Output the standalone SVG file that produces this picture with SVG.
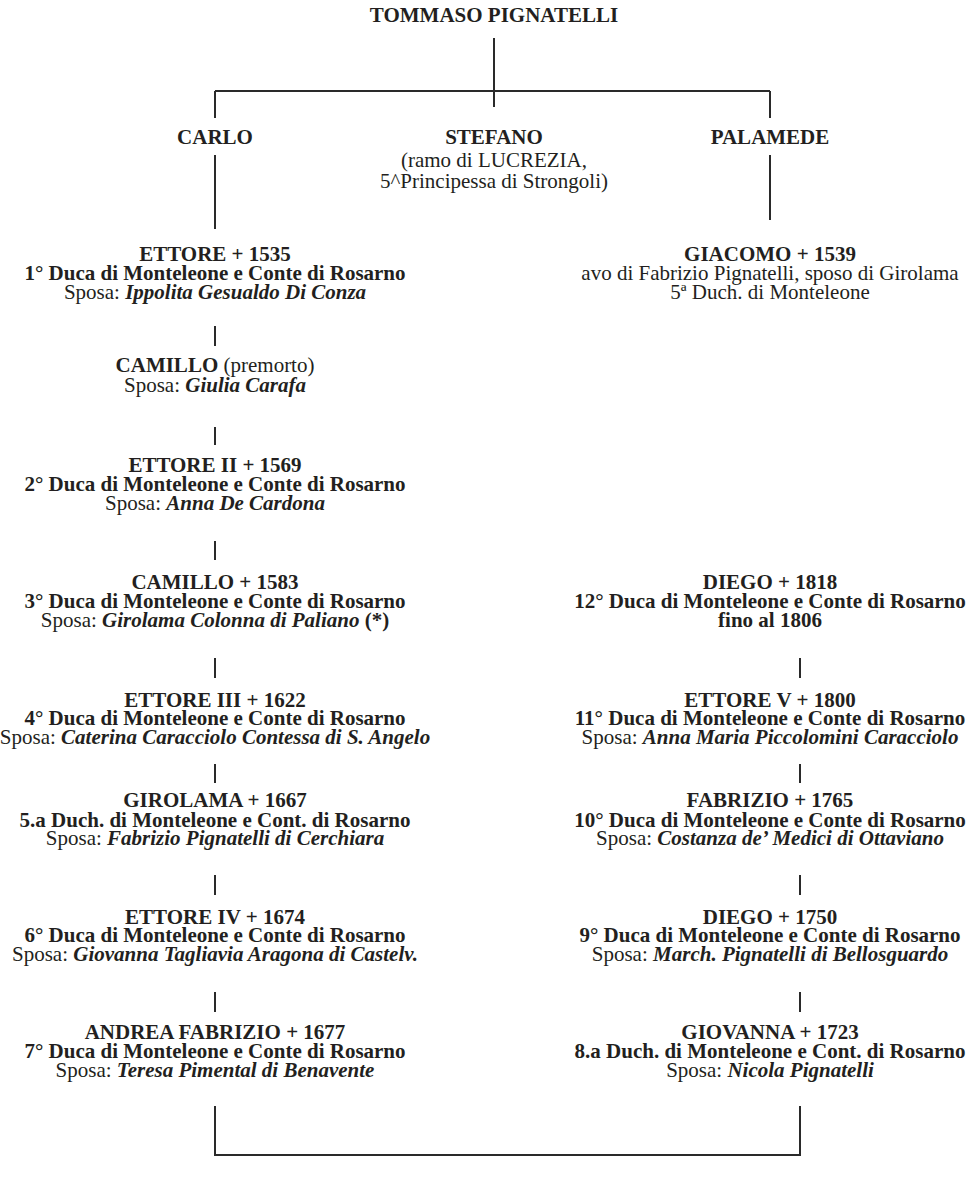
<svg xmlns="http://www.w3.org/2000/svg" width="972" height="1179" viewBox="0 0 972 1179">
<style>
text{font-family:"Liberation Serif","Times New Roman",serif;font-size:21px;fill:#231f20;text-anchor:middle}
.b{font-weight:bold}
.r{font-weight:normal}
.bi{font-weight:bold;font-style:italic}
.bn{font-weight:bold;font-style:normal}
.ln{stroke:#2a2a2a;stroke-width:2;fill:none}
</style>
<rect width="972" height="1179" fill="#fff"/>
<g id="connectors" class="ln">
<path d="M494 38V107M215 91H770M215 91V118M770 91V118M215 155V229M770 155V220"/>
<path d="M215 326V346M215 427V445M215 541V560M215 658V678M215 764V783M215 875V895M215 992V1012"/>
<path d="M800 658V678M800 764V783M800 875V895M800 992V1012"/>
<path d="M215 1106V1155H800V1106"/>
</g>
<g id="tommaso"><text class="b" x="494" y="22">TOMMASO PIGNATELLI</text></g>
<g id="carlo"><text class="b" x="215" y="144">CARLO</text></g>
<g id="stefano"><text class="b" x="494" y="144">STEFANO</text><text x="494" y="167">(ramo di LUCREZIA,</text><text x="494" y="188">5^Principessa di Strongoli)</text></g>
<g id="palamede"><text class="b" x="770" y="144">PALAMEDE</text></g>
<g id="ettore1">
<text class="b" x="215" y="261">ETTORE + 1535</text>
<text class="b" x="215" y="280">1° Duca di Monteleone e Conte di Rosarno</text>
<text x="215" y="299">Sposa: <tspan class="bi">Ippolita Gesualdo Di Conza</tspan></text>
</g>
<g id="camillo1">
<text x="215" y="372"><tspan class="b">CAMILLO</tspan> (premorto)</text>
<text x="215" y="392">Sposa: <tspan class="bi">Giulia Carafa</tspan></text>
</g>
<g id="ettore2">
<text class="b" x="215" y="472">ETTORE II + 1569</text>
<text class="b" x="215" y="491">2° Duca di Monteleone e Conte di Rosarno</text>
<text x="215" y="510">Sposa: <tspan class="bi">Anna De Cardona</tspan></text>
</g>
<g id="camillo2">
<text class="b" x="215" y="589">CAMILLO + 1583</text>
<text class="b" x="215" y="608">3° Duca di Monteleone e Conte di Rosarno</text>
<text x="215" y="627">Sposa: <tspan class="bi">Girolama Colonna di Paliano</tspan> <tspan class="bn">(*)</tspan></text>
</g>
<g id="ettore3">
<text class="b" x="215" y="707">ETTORE III + 1622</text>
<text class="b" x="215" y="725">4° Duca di Monteleone e Conte di Rosarno</text>
<text x="215" y="744">Sposa: <tspan class="bi">Caterina Caracciolo Contessa di S. Angelo</tspan></text>
</g>
<g id="girolama">
<text class="b" x="215" y="807">GIROLAMA + 1667</text>
<text class="b" x="215" y="827">5.a Duch. di Monteleone e Cont. di Rosarno</text>
<text x="215" y="845">Sposa: <tspan class="bi">Fabrizio Pignatelli di Cerchiara</tspan></text>
</g>
<g id="ettore4">
<text class="b" x="215" y="924">ETTORE IV + 1674</text>
<text class="b" x="215" y="942">6° Duca di Monteleone e Conte di Rosarno</text>
<text x="215" y="961">Sposa: <tspan class="bi">Giovanna Tagliavia Aragona di Castelv.</tspan></text>
</g>
<g id="andrea">
<text class="b" x="215" y="1039">ANDREA FABRIZIO + 1677</text>
<text class="b" x="215" y="1058">7° Duca di Monteleone e Conte di Rosarno</text>
<text x="215" y="1077">Sposa: <tspan class="bi">Teresa Pimental di Benavente</tspan></text>
</g>
<g id="giacomo">
<text class="b" x="770" y="261">GIACOMO + 1539</text>
<text x="770" y="280">avo di Fabrizio Pignatelli, sposo di Girolama</text>
<text x="770" y="299">5ª Duch. di Monteleone</text>
</g>
<g id="diego1818">
<text class="b" x="770" y="589">DIEGO + 1818</text>
<text class="b" x="770" y="608">12° Duca di Monteleone e Conte di Rosarno</text>
<text class="b" x="770" y="627">fino al 1806</text>
</g>
<g id="ettore5">
<text class="b" x="770" y="707">ETTORE V + 1800</text>
<text class="b" x="770" y="725">11° Duca di Monteleone e Conte di Rosarno</text>
<text x="770" y="744">Sposa: <tspan class="bi">Anna Maria Piccolomini Caracciolo</tspan></text>
</g>
<g id="fabrizio">
<text class="b" x="770" y="807">FABRIZIO + 1765</text>
<text class="b" x="770" y="827">10° Duca di Monteleone e Conte di Rosarno</text>
<text x="770" y="845">Sposa: <tspan class="bi">Costanza de’ Medici di Ottaviano</tspan></text>
</g>
<g id="diego1750">
<text class="b" x="770" y="924">DIEGO + 1750</text>
<text class="b" x="770" y="942">9° Duca di Monteleone e Conte di Rosarno</text>
<text x="770" y="961">Sposa: <tspan class="bi">March. Pignatelli di Bellosguardo</tspan></text>
</g>
<g id="giovanna">
<text class="b" x="770" y="1039">GIOVANNA + 1723</text>
<text class="b" x="770" y="1058">8.a Duch. di Monteleone e Cont. di Rosarno</text>
<text x="770" y="1077">Sposa: <tspan class="bi">Nicola Pignatelli</tspan></text>
</g>
</svg>
